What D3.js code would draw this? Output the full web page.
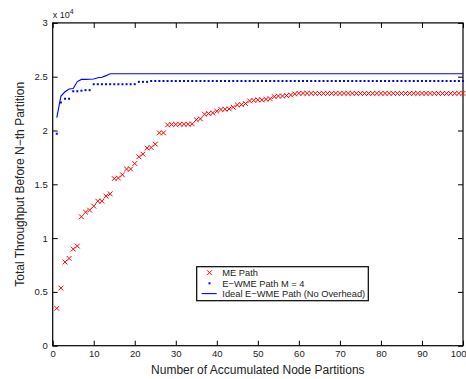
<!DOCTYPE html>
<html><head><meta charset="utf-8">
<script src="https://cdn.jsdelivr.net/npm/d3@7"></script>
<style>
html,body{margin:0;padding:0;background:#fff;}
svg{display:block;font-family:"Liberation Sans",Arial,Helvetica,sans-serif;}
</style></head>
<body><svg id="c" width="466" height="379"></svg>
<script>
const partitions = d3.range(1, 101);
const mePath = [3470,5360,7770,8110,8980,9260,11980,12410,12600,12970,
13430,13430,13900,14110,15530,15580,15880,16420,16420,16930,
17560,17800,18360,18420,18730,19780,19780,20520,20560,20560,
20580,20580,20580,20610,21000,21080,21510,21580,21630,21790,
21950,21980,22010,22160,22380,22400,22500,22750,22800,22850,
22850,22900,22950,23150,23200,23200,23250,23300,23400,23450,
23450,23450,23450,23450,23450,23450,23450,23450,23450,23450,
23450,23450,23450,23450,23450,23450,23450,23450,23450,23450,
23450,23450,23450,23450,23450,23450,23450,23450,23450,23450,
23450,23450,23450,23450,23450,23450,23450,23450,23450,23450];
const ewmePath = [19700,22600,22950,22950,23650,23650,23700,23750,23750,24300,
24300,24300,24300,24300,24300,24300,24300,24300,24300,24300,
24520,24520,24520,24600,24600,24600,24600,24600,24600,24600,
24600,24600,24600,24600,24600,24600,24600,24600,24600,24600,
24600,24600,24600,24600,24600,24600,24600,24600,24600,24600,
24600,24600,24600,24600,24600,24600,24600,24600,24600,24600,
24600,24600,24600,24600,24600,24600,24600,24600,24600,24600,
24600,24600,24600,24600,24600,24600,24600,24600,24600,24600,
24600,24600,24600,24600,24600,24600,24600,24600,24600,24600,
24600,24600,24600,24600,24600,24600,24600,24600,24600,24600];
const idealPath = [21200,23200,23600,23850,23900,24550,24750,24750,24760,24780,
24900,24950,25100,25280,25280,25280,25280,25280,25280,25280,
25280,25280,25280,25280,25280,25280,25280,25280,25280,25280,
25280,25280,25280,25280,25280,25280,25280,25280,25280,25280,
25280,25280,25280,25280,25280,25280,25280,25280,25280,25280,
25280,25280,25280,25280,25280,25280,25280,25280,25280,25280,
25280,25280,25280,25280,25280,25280,25280,25280,25280,25280,
25280,25280,25280,25280,25280,25280,25280,25280,25280,25280,
25280,25280,25280,25280,25280,25280,25280,25280,25280,25280,
25280,25280,25280,25280,25280,25280,25280,25280,25280,25280];
const xTicks = [0,10,20,30,40,50,60,70,80,90,100];
const yTicks = [0,5000,10000,15000,20000,25000,30000];
const yTickLabels = ["0","0.5","1","1.5","2","2.5","3"];
const seriesNames = ["ME Path","E\u2212WME Path M = 4","Ideal E\u2212WME Path (No Overhead)"];
const xTitle = "Number of Accumulated Node Partitions";
const yTitle = "Total Throughput Before N\u2212th Partition";

const L = 52.7, R = 463, T = 22.9, B = 345.7;
const x = d3.scaleLinear().domain([0,100]).range([L,R]);
const y = d3.scaleLinear().domain([0,30000]).range([B,T]);
const svg = d3.select("#c");
svg.append("rect").attr("width",466).attr("height",379).attr("fill","#fff");

// axes
const gx = svg.append("g").attr("transform",`translate(0,${B})`)
  .call(d3.axisBottom(x).tickValues(xTicks).tickSizeInner(-5).tickSizeOuter(0).tickPadding(5).tickFormat(d3.format("d")));
const gy = svg.append("g").attr("transform",`translate(${L},0)`)
  .call(d3.axisLeft(y).tickValues(yTicks).tickSizeInner(-5).tickSizeOuter(0).tickPadding(5).tickFormat((d,i)=>yTickLabels[i]));
const gt = svg.append("g").attr("transform",`translate(0,${T})`)
  .call(d3.axisTop(x).tickValues(xTicks).tickSizeInner(-5).tickSizeOuter(0).tickFormat(""));
const gr = svg.append("g").attr("transform",`translate(${R},0)`)
  .call(d3.axisRight(y).tickValues(yTicks).tickSizeInner(-5).tickSizeOuter(0).tickFormat(""));
[gx,gy,gt,gr].forEach(g=>{
  g.selectAll(".domain").remove();
  g.selectAll("line").attr("stroke","#000").attr("stroke-width",1);
  g.selectAll("text").attr("fill","#222").attr("font-size",9.5).attr("font-family","Liberation Sans, Arial, sans-serif");
});
// keep the last x label inside the window
gx.selectAll(".tick").filter(d=>d===100).select("text")
  .attr("text-anchor","end").attr("x",466-R);
svg.append("rect").attr("x",L).attr("y",T).attr("width",R-L).attr("height",B-T)
  .attr("fill","none").attr("stroke","#000").attr("stroke-width",1.2);

// exponent
const ex = svg.append("text").attr("x",L).attr("y",17.5).attr("font-size",9).attr("fill","#222");
ex.append("tspan").text("x 10");
ex.append("tspan").attr("dy",-4).attr("font-size",7).text("4");

// ideal line
svg.append("path").datum(idealPath)
  .attr("d", d3.line().x((d,i)=>x(partitions[i])).y(d=>y(d)))
  .attr("fill","none").attr("stroke","#0000ff").attr("stroke-width",1.1);
// e-wme dots
svg.append("g").selectAll("rect").data(ewmePath).join("rect")
  .attr("x",(d,i)=>x(partitions[i])-1).attr("y",d=>y(d)-1)
  .attr("width",2).attr("height",2).attr("fill","#0000ff");
// ME x markers
const s = 2.4;
svg.append("g").selectAll("path").data(mePath).join("path")
  .attr("d",(d,i)=>{const cx=x(partitions[i]), cy=y(d);
    return `M${cx-s},${cy-s}L${cx+s},${cy+s}M${cx-s},${cy+s}L${cx+s},${cy-s}`;})
  .attr("stroke","#ff0000").attr("stroke-width",1).attr("fill","none");

// legend
const lg = svg.append("g");
lg.append("rect").attr("x",196.7).attr("y",266.7).attr("width",171.6).attr("height",34)
  .attr("fill","#fff").attr("stroke","#000").attr("stroke-width",1.2);
const rows = [272.7,283.3,293.6];
const mx = 209.5;
lg.append("path").attr("d",`M${mx-s},${rows[0]-s}L${mx+s},${rows[0]+s}M${mx-s},${rows[0]+s}L${mx+s},${rows[0]-s}`)
  .attr("stroke","#ff0000").attr("stroke-width",1);
lg.append("rect").attr("x",mx-1).attr("y",rows[1]-1).attr("width",2).attr("height",2).attr("fill","#0000ff");
lg.append("line").attr("x1",201.7).attr("x2",216.7).attr("y1",rows[2]).attr("y2",rows[2])
  .attr("stroke","#0000ff").attr("stroke-width",1.1);
seriesNames.forEach((n,i)=>{
  lg.append("text").attr("x",222.3).attr("y",rows[i]+3.5).attr("font-size",9.3).attr("fill","#222").text(n);
});

// titles
svg.append("text").attr("x",(L+R)/2).attr("y",374).attr("text-anchor","middle")
  .attr("font-size",12).attr("fill","#222").text(xTitle);
svg.append("text").attr("transform",`translate(24,${(T+B)/2}) rotate(-90)`).attr("text-anchor","middle")
  .attr("font-size",12).attr("fill","#222").text(yTitle);
</script></body></html>
